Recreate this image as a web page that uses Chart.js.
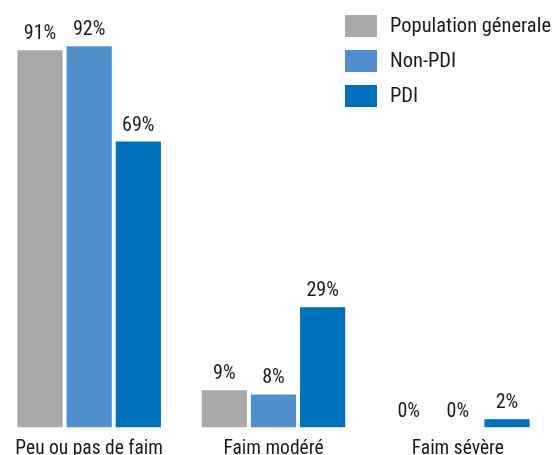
<!DOCTYPE html>
<html>
<head>
<meta charset="utf-8">
<script src="https://cdn.jsdelivr.net/npm/chart.js@4.4.1/dist/chart.umd.min.js"></script>
<style>
  html, body { margin: 0; padding: 0; background: #fff; overflow: hidden; }
  #wrap { position: relative; width: 554px; height: 455px; overflow: hidden; }
  #chart { position: absolute; left: -3px; top: 0; }
</style>
</head>
<body>
<div id="wrap"><canvas id="chart" width="557" height="470"></canvas></div>
<script>
// Hunger levels by population group (values in %).
const categories = ['Peu ou pas de faim', 'Faim modéré', 'Faim sévère'];
const seriesNames = ['Population génerale', 'Non-PDI', 'PDI'];
const populationGenerale = [91, 9, 0];
const nonPdi = [92, 8, 0];
const pdi = [69, 29, 2];
const colors = ['#a7a8aa', '#4f8fcd', '#0070bd'];

const FONT = '"Liberation Sans Narrow", "Roboto Condensed", Roboto, sans-serif';

// Percent labels above each bar.
const valueLabels = {
    id: 'valueLabels',
    afterDatasetsDraw(chart) {
        const ctx = chart.ctx;
        ctx.save();
        ctx.font = '20px ' + FONT;
        ctx.fillStyle = '#1a1a1a';
        ctx.textAlign = 'center';
        ctx.textBaseline = 'bottom';
        chart.data.datasets.forEach((ds, i) => {
            chart.getDatasetMeta(i).data.forEach((bar, j) => {
                ctx.fillText(ds.data[j] + '%', bar.x, bar.y - 6);
            });
        });
        ctx.restore();
    }
};

// Legend in the top-right corner, boxes stacked vertically.
const cornerLegend = {
    id: 'cornerLegend',
    afterDraw(chart) {
        const ctx = chart.ctx;
        ctx.save();
        ctx.font = '20.5px ' + FONT;
        ctx.textBaseline = 'middle';
        chart.data.datasets.forEach((ds, i) => {
            const y = 15 + i * 35;
            ctx.fillStyle = ds.backgroundColor;
            ctx.fillRect(348, y, 32, 22);
            ctx.fillStyle = '#1a1a1a';
            ctx.fillText(ds.label, 393, y + 12);
        });
        ctx.restore();
    }
};

const datasets = [populationGenerale, nonPdi, pdi].map((d, i) => ({
    label: seriesNames[i],
    data: d,
    backgroundColor: colors[i],
    categoryPercentage: 0.8,
    barPercentage: 0.92
}));

new Chart(document.getElementById('chart'), {
    type: 'bar',
    data: { labels: categories, datasets: datasets },
    options: {
        responsive: false,
        animation: false,
        layout: { padding: { top: 13, left: 0, right: 4, bottom: 0 } },
        plugins: {
            legend: { display: false },
            tooltip: { enabled: false }
        },
        scales: {
            x: {
                grid: { display: false, drawTicks: false },
                border: { display: false },
                ticks: { color: '#1a1a1a', padding: 9.5, font: { family: FONT, size: 19.5 } }
            },
            y: {
                display: false,
                min: 0,
                max: 100
            }
        }
    },
    plugins: [valueLabels, cornerLegend]
});
</script>
</body>
</html>
